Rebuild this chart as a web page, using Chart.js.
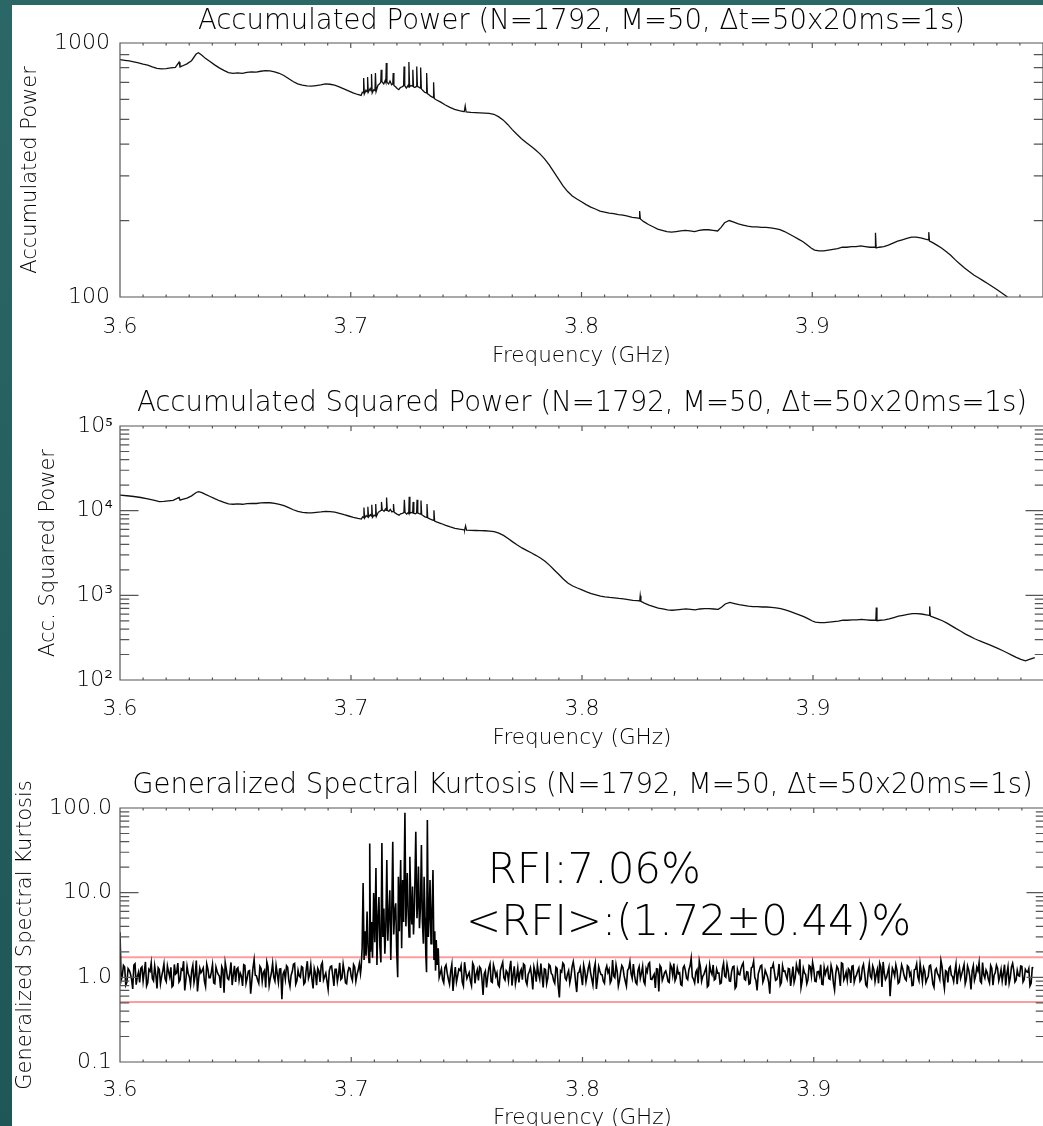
<!DOCTYPE html>
<html>
<head>
<meta charset="utf-8">
<title>Spectral Kurtosis</title>
<script src="https://cdn.jsdelivr.net/npm/chart.js@4.4.1/dist/chart.umd.min.js"></script>
<style>
  body { margin: 0; width: 1043px; height: 1126px; overflow: hidden; position: relative;
         background: linear-gradient(#2c6767, #1f5656); }
  .sheet { position: absolute; left: 12px; top: 5px; right: 0; bottom: 0; background: #fff; }
  .panel { position: absolute; left: 0; }
</style>
</head>
<body>
<div class="sheet"></div>
<div class="panel" style="top:0"><canvas id="powerChart" width="1060" height="375"></canvas></div>
<div class="panel" style="top:375px"><canvas id="squaredChart" width="1060" height="380"></canvas></div>
<div class="panel" style="top:755px"><canvas id="kurtosisChart" width="1060" height="390"></canvas></div>
<script>
// ---- data ----
const xMajorTicks = [3.6, 3.7, 3.8, 3.9, 4.0];
const xTickLabels = ["3.6", "3.7", "3.8", "3.9", ""];

const powerTicks = [100, 1000];
const powerLabels = ["100", "1000"];
const squaredTicks = [100, 1000, 10000, 100000];
const squaredLabels = ["10²", "10³", "10⁴", "10⁵"];
const kurtTicks = [0.1, 1, 10, 100];
const kurtLabels = ["0.1", "1.0", "10.0", "100.0"];

// accumulated power [GHz, value]
const accPower = [
  [3.600, 860], [3.602, 855], [3.604, 850], [3.606, 843], [3.608, 836], [3.610, 826], [3.612, 818],
  [3.614, 806], [3.616, 795], [3.618, 791], [3.620, 793], [3.622, 798], [3.624, 801], [3.6256, 840],
  [3.6260, 805], [3.627, 812], [3.629, 828], [3.631, 852], [3.633, 905], [3.634, 915], [3.6355, 895],
  [3.637, 870], [3.639, 845], [3.641, 820], [3.643, 798], [3.645, 780], [3.647, 765], [3.649, 760],
  [3.651, 763], [3.653, 760], [3.655, 766], [3.657, 770], [3.659, 768], [3.661, 774], [3.663, 778],
  [3.665, 776], [3.667, 770], [3.669, 760], [3.671, 745], [3.673, 725], [3.675, 705], [3.677, 690],
  [3.679, 682], [3.681, 678], [3.683, 676], [3.685, 680], [3.687, 684], [3.689, 690], [3.691, 688],
  [3.693, 682], [3.695, 672], [3.697, 660], [3.699, 648], [3.701, 636], [3.703, 627], [3.7045, 622],
  [3.7050, 640], [3.7054, 636], [3.7056, 728], [3.7059, 630], [3.7066, 652], [3.7071, 642], [3.7073, 734],
  [3.7076, 640], [3.7084, 662], [3.7088, 648], [3.7090, 755], [3.7093, 636], [3.7100, 655], [3.7105, 650],
  [3.7107, 762], [3.7110, 645], [3.7118, 682], [3.7124, 690], [3.7130, 700], [3.7132, 785], [3.7135, 705],
  [3.7143, 690], [3.7149, 712], [3.7152, 700], [3.7154, 834], [3.7157, 700], [3.7164, 690], [3.7170, 708],
  [3.7177, 685], [3.7182, 690], [3.7184, 762], [3.7187, 680], [3.7194, 672], [3.7201, 662], [3.7208, 655],
  [3.7215, 668], [3.7222, 672], [3.7229, 678], [3.7231, 808], [3.7234, 680], [3.7241, 665], [3.7248, 680],
  [3.7250, 672], [3.7252, 842], [3.7255, 672], [3.7261, 680], [3.7267, 676], [3.7269, 785], [3.7272, 672],
  [3.7278, 668], [3.7284, 674], [3.7286, 808], [3.7289, 676], [3.7295, 670], [3.7301, 665], [3.7303, 800],
  [3.7306, 660], [3.7313, 650], [3.7320, 640], [3.7327, 636], [3.7329, 762], [3.7332, 632], [3.7339, 625],
  [3.7346, 618], [3.7354, 612], [3.7357, 610], [3.7359, 700], [3.7362, 605], [3.737, 598],
  [3.739, 585], [3.741, 570], [3.743, 558], [3.745, 548], [3.747, 542], [3.749, 537],
  [3.7492, 537], [3.7496, 565], [3.7500, 535], [3.752, 533], [3.754, 532], [3.756, 531], [3.758, 530],
  [3.760, 528], [3.762, 524], [3.764, 513], [3.766, 498], [3.768, 478], [3.770, 456], [3.772, 437],
  [3.774, 420], [3.776, 406], [3.778, 393], [3.780, 380], [3.782, 366], [3.784, 350], [3.786, 331],
  [3.788, 311], [3.790, 292], [3.792, 274], [3.794, 260], [3.796, 250], [3.798, 243], [3.800, 237],
  [3.802, 231], [3.804, 226], [3.806, 222], [3.808, 218], [3.810, 216], [3.812, 214], [3.814, 213],
  [3.816, 211], [3.818, 210], [3.820, 208], [3.822, 206], [3.824, 205], [3.8250, 204], [3.8252, 218],
  [3.8255, 203], [3.827, 198], [3.829, 193], [3.831, 189], [3.833, 185], [3.835, 183], [3.837, 181],
  [3.839, 180], [3.841, 181], [3.843, 182], [3.845, 183], [3.847, 182], [3.849, 181], [3.851, 183],
  [3.853, 184], [3.855, 184], [3.857, 183], [3.859, 182], [3.8605, 188], [3.862, 196], [3.864, 200],
  [3.866, 197], [3.868, 194], [3.870, 192], [3.872, 190], [3.874, 189], [3.876, 189], [3.878, 188],
  [3.880, 188], [3.882, 187], [3.884, 186], [3.886, 184], [3.888, 181], [3.890, 177], [3.892, 173],
  [3.894, 169], [3.896, 165], [3.898, 160], [3.8995, 156], [3.901, 153], [3.903, 152], [3.905, 152],
  [3.907, 153], [3.909, 154], [3.911, 155], [3.913, 157], [3.915, 157], [3.917, 158], [3.919, 158],
  [3.921, 159], [3.923, 158], [3.925, 157], [3.9272, 157], [3.9274, 179], [3.9277, 156], [3.929, 157],
  [3.931, 158], [3.933, 160], [3.935, 163], [3.937, 166], [3.939, 168], [3.941, 170], [3.943, 172],
  [3.945, 172], [3.947, 171], [3.949, 169], [3.9503, 168], [3.9505, 180], [3.9508, 166], [3.952, 164],
  [3.954, 160], [3.956, 156], [3.958, 151], [3.960, 146], [3.962, 140], [3.964, 135], [3.966, 130],
  [3.968, 126], [3.970, 122], [3.972, 119], [3.974, 116], [3.976, 113], [3.978, 110], [3.980, 107],
  [3.982, 104], [3.984, 101], [3.986, 97], [3.988, 94], [3.990, 90], [3.992, 87], [3.995, 83]
];

// accumulated squared power [GHz, value]
const accSquared = [
  [3.600, 15300], [3.603, 15000], [3.606, 14700], [3.609, 14300], [3.612, 13800], [3.615, 13200],
  [3.617, 12800], [3.619, 12900], [3.621, 13050], [3.623, 13200], [3.6256, 14300], [3.6260, 13300],
  [3.627, 13550], [3.629, 14100], [3.631, 14950], [3.633, 16400], [3.634, 16800], [3.6355, 16300],
  [3.637, 15550], [3.639, 14700], [3.641, 13850], [3.643, 13100], [3.645, 12550], [3.647, 12050],
  [3.649, 11900], [3.651, 12000], [3.653, 11900], [3.655, 12100], [3.657, 12200], [3.659, 12150],
  [3.661, 12350], [3.663, 12450], [3.665, 12400], [3.667, 12200], [3.669, 11900], [3.671, 11450],
  [3.673, 10850], [3.675, 10250], [3.677, 9800], [3.679, 9550], [3.681, 9450], [3.683, 9400],
  [3.685, 9550], [3.687, 9650], [3.689, 9800], [3.691, 9750], [3.693, 9600], [3.695, 9300],
  [3.697, 8950], [3.699, 8650], [3.701, 8350], [3.703, 8100], [3.7045, 7950],
  [3.7050, 8440], [3.7054, 8300], [3.7056, 10920], [3.7059, 8180], [3.7066, 8750], [3.7071, 8450],
  [3.7073, 11100], [3.7076, 8440], [3.7084, 9000], [3.7088, 8650], [3.7090, 11740], [3.7093, 8330],
  [3.7100, 8840], [3.7105, 8700], [3.7107, 11960], [3.7110, 8570], [3.7118, 9560], [3.7124, 9800],
  [3.7130, 10090], [3.7132, 12690], [3.7135, 10240], [3.7143, 9810], [3.7149, 10440], [3.7152, 10090],
  [3.7154, 14330], [3.7157, 10090], [3.7164, 9810], [3.7170, 10330], [3.7177, 9670], [3.7182, 9810],
  [3.7184, 11960], [3.7187, 9530], [3.7194, 9300], [3.7201, 9030], [3.7208, 8840], [3.7215, 9190],
  [3.7222, 9300], [3.7229, 9470], [3.7231, 13450], [3.7234, 9530], [3.7241, 9110], [3.7248, 9530],
  [3.7250, 9300], [3.7252, 14600], [3.7255, 9300], [3.7261, 9530], [3.7267, 9410], [3.7269, 12690],
  [3.7272, 9300], [3.7278, 9190], [3.7284, 9360], [3.7286, 13450], [3.7289, 9410], [3.7295, 9250],
  [3.7301, 9110], [3.7303, 13180], [3.7306, 8970], [3.7313, 8700], [3.7320, 8440], [3.7327, 8330],
  [3.7329, 11960], [3.7332, 8230], [3.7339, 8050], [3.7346, 7870], [3.7354, 7720], [3.7357, 7660],
  [3.7359, 10090], [3.7362, 7540], [3.737, 7370], [3.739, 7050], [3.741, 6700], [3.743, 6420],
  [3.745, 6190], [3.747, 6050], [3.749, 5940], [3.7492, 5930], [3.7496, 6600], [3.7500, 5900],
  [3.752, 5850], [3.754, 5830], [3.756, 5800], [3.758, 5790], [3.760, 5740], [3.762, 5650],
  [3.764, 5420], [3.766, 5110], [3.768, 4700], [3.770, 4280], [3.772, 3930], [3.774, 3630],
  [3.776, 3390], [3.778, 3180], [3.780, 2970], [3.782, 2760], [3.784, 2520], [3.786, 2260],
  [3.788, 1990], [3.790, 1760], [3.792, 1550], [3.794, 1390], [3.796, 1290], [3.798, 1220],
  [3.800, 1160], [3.802, 1100], [3.804, 1050], [3.806, 1015], [3.808, 980], [3.810, 960],
  [3.812, 945], [3.814, 935], [3.816, 920], [3.818, 908], [3.820, 892], [3.822, 874], [3.824, 866],
  [3.8250, 857], [3.8252, 990], [3.8255, 849], [3.827, 808], [3.829, 767], [3.831, 735], [3.833, 705],
  [3.835, 690], [3.837, 675], [3.839, 667], [3.841, 675], [3.843, 682], [3.845, 690], [3.847, 682],
  [3.849, 675], [3.851, 690], [3.853, 697], [3.855, 697], [3.857, 690], [3.859, 682], [3.8605, 728],
  [3.862, 791], [3.864, 824], [3.866, 800], [3.868, 775], [3.870, 760], [3.872, 744], [3.874, 736],
  [3.876, 736], [3.878, 728], [3.880, 728], [3.882, 720], [3.884, 713], [3.886, 697], [3.888, 675],
  [3.890, 645], [3.892, 617], [3.894, 589], [3.896, 561], [3.898, 527], [3.8995, 501], [3.901, 482],
  [3.903, 476], [3.905, 476], [3.907, 482], [3.909, 488], [3.911, 495], [3.913, 508], [3.915, 508],
  [3.917, 514], [3.919, 514], [3.921, 520], [3.923, 514], [3.925, 508], [3.9272, 508], [3.9274, 720],
  [3.9277, 501], [3.929, 508], [3.931, 514], [3.933, 527], [3.935, 547], [3.937, 567], [3.939, 581],
  [3.941, 595], [3.943, 609], [3.945, 609], [3.947, 602], [3.949, 589], [3.9503, 581], [3.9505, 740],
  [3.9508, 568], [3.952, 554], [3.954, 527], [3.956, 501], [3.958, 470], [3.960, 436], [3.962, 404],
  [3.964, 376], [3.966, 348], [3.968, 327], [3.970, 307], [3.972, 291], [3.974, 277], [3.976, 263],
  [3.978, 249], [3.980, 236], [3.982, 223], [3.984, 210], [3.986, 197], [3.988, 185], [3.990, 175],
  [3.992, 168], [3.994, 176], [3.996, 184]
];

// generalized spectral kurtosis: channels every 0.5 MHz outside the RFI band
const skStep = 0.001;
const skLeftStart = 3.600;
const skLeft = [
  3.4, 1.05, 1.32, 0.88, 1.21, 0.95, 1.40, 0.82, 1.15, 1.28, 0.90, 1.52, 0.86, 1.18, 0.97, 1.36, 0.74, 1.24, 1.02, 1.44,
  0.89, 1.16, 1.31, 0.80, 1.09, 1.47, 0.93, 1.22, 0.70, 1.35, 1.01, 1.19, 0.87, 1.58, 0.96, 1.13, 1.29, 0.78, 1.26, 0.99,
  1.41, 0.84, 1.17, 1.03, 1.34, 0.66, 1.23, 0.94, 1.50, 1.07, 0.88, 1.30, 1.12, 0.79, 1.38, 0.98, 1.20, 0.91, 1.62, 1.04,
  0.85, 1.27, 1.14, 0.76, 1.33, 0.97, 1.46, 0.90, 1.10, 1.25, 0.55, 1.18, 1.37, 0.92, 1.06, 1.43, 0.83, 1.21, 1.00, 1.31,
  0.87, 1.55, 1.08, 0.95, 1.28, 0.81, 1.19, 1.39, 0.93, 1.12, 0.72, 1.34, 1.05, 1.24, 0.89, 1.48, 0.98, 1.16, 0.84, 1.30,
  1.02, 1.42, 0.90, 1.22, 1.11
];
const skLeftMidStart = 3.6005;
const skLeftMid = [
  0.92, 1.38, 0.81, 1.27, 1.10, 0.73, 1.45, 1.02, 0.87, 1.33, 1.16, 0.79, 1.24, 1.48, 0.91, 1.07, 1.30, 0.84, 1.19, 0.96,
  1.36, 1.01, 0.77, 1.42, 1.13, 0.88, 1.26, 1.55, 0.94, 1.11, 0.82, 1.39, 1.05, 0.68, 1.28, 1.20, 0.90, 1.44, 0.99, 1.15,
  0.86, 1.32, 1.08, 0.75, 1.23, 1.49, 0.97, 1.12, 0.81, 1.37, 1.25, 0.92, 1.03, 1.41, 0.85, 1.18, 0.64, 1.29, 1.06, 0.93,
  1.35, 0.89, 1.21, 1.52, 0.80, 1.14, 1.00, 1.38, 0.87, 1.26, 1.09, 0.95, 1.31, 0.78, 1.17, 1.46, 0.91, 1.04, 1.34, 0.83,
  1.22, 0.97, 1.40, 0.74, 1.13, 1.28, 0.88, 1.50, 1.02, 0.90, 1.19, 1.36, 0.79, 1.24, 1.07, 0.94, 1.43, 0.86, 1.15, 1.27,
  0.92, 1.33, 1.08, 1.45
];
// RFI band [GHz, value]
const skRfi = [
  [3.70427, 1.3], [3.70470, 2.2], [3.70513, 13.0], [3.70556, 1.6], [3.70598, 3.5], [3.70641, 1.8],
  [3.70684, 6.0], [3.70726, 2.4], [3.70769, 1.5], [3.70799, 38], [3.70833, 2.0], [3.70876, 4.5],
  [3.70919, 1.7], [3.70970, 9.9], [3.71017, 2.6], [3.71068, 19.6], [3.71111, 1.4], [3.71154, 5.0],
  [3.71197, 8.9], [3.71239, 2.3], [3.71282, 1.5], [3.71325, 38.5], [3.71368, 3.0], [3.71410, 6.5],
  [3.71453, 1.9], [3.71496, 4.0], [3.71538, 24.3], [3.71581, 2.7], [3.71624, 5.5], [3.71667, 10.7],
  [3.71709, 1.6], [3.71752, 6.0], [3.71795, 40], [3.71838, 3.2], [3.71880, 6.0], [3.71923, 7.5],
  [3.71966, 2.0], [3.72009, 1.0], [3.72038, 15.4], [3.72081, 3.5], [3.72137, 24.3], [3.72179, 2.2],
  [3.72222, 14.1], [3.72265, 4.5], [3.72321, 88], [3.72363, 4.0], [3.72423, 17.1], [3.72466, 5.5],
  [3.72500, 3.0], [3.72534, 26.6], [3.72585, 6.0], [3.72620, 4.2], [3.72650, 11.8], [3.72692, 3.2],
  [3.72735, 7.0], [3.72791, 52.5], [3.72842, 5.0], [3.72876, 8.0], [3.72906, 20.3], [3.72949, 3.8],
  [3.72991, 6.5], [3.73034, 36.5], [3.73077, 4.5], [3.73120, 2.5], [3.73150, 15.4], [3.73192, 5.0],
  [3.73226, 1.8], [3.73256, 1.15], [3.73291, 72], [3.73333, 3.0], [3.73376, 6.0], [3.73406, 14.1],
  [3.73449, 2.5], [3.73483, 4.5], [3.73534, 18.5], [3.73577, 1.6], [3.73611, 3.5], [3.73645, 1.2],
  [3.73675, 2.76], [3.73718, 1.4], [3.73761, 2.2], [3.73803, 1.0]
];
const skRightStart = 3.739;
const skRight = [
  1.26, 0.86, 1.40, 0.95, 1.18, 0.69, 1.32, 1.04, 1.21, 0.88, 1.51, 0.97, 1.14, 0.80, 1.36, 1.09, 0.92, 1.27, 0.62, 1.19,
  1.01, 1.44, 0.87, 1.23, 1.13, 0.78, 1.35, 0.99, 1.20, 0.91, 1.57, 1.06, 0.84, 1.29, 1.15, 0.94, 1.39, 0.82, 1.17, 1.03,
  1.33, 0.89, 1.10, 1.45, 0.76, 1.24, 0.98, 1.37, 1.07, 0.85, 1.28, 0.58, 1.16, 1.41, 0.93, 1.20, 1.02, 1.53, 0.88, 1.12,
  1.30, 0.81, 1.19, 1.05, 1.46, 0.96, 1.25, 0.73, 1.34, 1.08, 0.90, 1.22, 1.14, 0.86, 1.60, 0.99, 1.18, 0.92, 1.38, 1.04,
  0.79, 1.27, 1.11, 1.43, 0.87, 1.21, 0.97, 1.35, 0.83, 1.16, 1.49, 0.94, 1.09, 1.26, 0.68, 1.31, 1.01, 1.19, 0.89, 1.42,
  1.06, 0.91, 1.28, 1.13, 0.80, 1.37, 0.98, 1.23, 1.68, 0.95, 1.15, 0.85, 1.32, 1.03, 1.20, 0.77, 1.40, 1.08, 0.93, 1.25,
  1.12, 0.86, 1.47, 1.00, 1.19, 0.90, 1.33, 0.74, 1.24, 1.07, 1.39, 0.96, 1.16, 0.83, 1.29, 1.54, 0.92, 1.10, 1.36, 0.88,
  1.21, 1.02, 0.64, 1.30, 1.14, 0.94, 1.44, 0.87, 1.18, 1.05, 1.27, 0.79, 1.34, 0.99, 1.22, 1.63, 0.91, 1.13, 0.84, 1.38,
  1.04, 1.25, 0.89, 1.17, 1.41, 0.82, 1.09, 1.31, 0.95, 1.20, 0.71, 1.35, 1.06, 1.48, 0.93, 1.15, 1.26, 0.86, 1.37, 1.00,
  1.19, 0.90, 1.29, 1.11, 0.78, 1.43, 0.97, 1.23, 1.08, 0.85, 1.33, 1.52, 0.94, 1.16, 0.60, 1.28, 1.03, 1.21, 0.88, 1.40,
  1.07, 0.92, 1.32, 1.14, 0.81, 1.25, 1.01, 1.45, 0.89, 1.18, 0.96, 1.36, 1.10, 0.76, 1.27, 1.05, 1.58, 0.93, 1.20, 0.87,
  1.34, 1.02, 1.16, 0.83, 1.30, 1.09, 1.42, 0.95, 1.22, 0.72, 1.37, 1.04, 1.19, 0.90, 1.49, 0.98, 1.13, 0.86, 1.28, 1.06,
  1.39, 0.91, 1.24, 1.12, 0.80, 1.33, 0.99, 1.46, 0.88, 1.21, 1.03, 1.35, 0.94, 1.17, 1.27, 0.85, 1.31
];
const skRightMidStart = 3.7395;
const skRightMid = [
  0.94, 1.31, 1.12, 0.83, 1.43, 1.00, 0.88, 1.25, 1.37, 0.79, 1.18, 1.06, 0.91, 1.47, 0.85, 1.22, 1.33, 0.97, 1.10, 0.76,
  1.29, 0.89, 1.40, 1.03, 0.82, 1.21, 1.50, 0.93, 1.14, 1.27, 0.80, 1.35, 1.01, 0.87, 1.24, 1.44, 0.90, 1.08, 1.30, 0.72,
  1.17, 1.38, 0.95, 1.05, 1.26, 0.84, 1.42, 1.11, 0.92, 1.32, 0.78, 1.20, 1.48, 0.98, 1.09, 0.86, 1.34, 1.23, 0.67, 1.15,
  1.02, 1.39, 0.88, 1.28, 1.13, 0.81, 1.46, 0.96, 1.19, 1.07, 0.85, 1.36, 1.24, 0.93, 1.04, 1.41, 0.79, 1.16, 1.30, 0.90,
  1.21, 1.52, 0.97, 1.06, 0.83, 1.34, 1.12, 0.89, 1.27, 1.43, 0.95, 1.02, 0.75, 1.25, 1.38, 0.92, 1.14, 1.05, 0.87, 1.31,
  1.45, 0.99, 1.10, 0.82, 1.29, 1.20, 0.94, 1.36, 1.01, 0.86, 1.23, 1.56, 0.90, 1.08, 1.32, 0.80, 1.17, 1.40, 0.96, 1.12,
  0.84, 1.27, 1.03, 1.42, 0.91, 1.18, 1.35, 0.78, 1.09, 1.26, 1.48, 0.93, 1.15, 0.85, 1.33, 1.00, 0.70, 1.22, 1.39, 0.97,
  1.11, 0.88, 1.30, 1.44, 0.92, 1.06, 0.81, 1.37, 1.19, 0.95, 1.25, 1.02, 0.87, 1.41, 1.13, 0.76, 1.28, 1.08, 0.94, 1.34,
  1.50, 0.90, 1.16, 1.04, 0.83, 1.31, 1.22, 0.97, 1.38, 0.86, 1.10, 1.27, 0.79, 1.45, 1.01, 0.92, 1.20, 1.35, 0.88, 1.07,
  1.29, 0.95, 1.42, 0.82, 1.14, 1.03, 1.36, 0.89, 1.24, 1.47, 0.77, 1.12, 1.00, 1.32, 0.93, 1.18, 1.40, 0.85, 1.09, 1.26,
  0.96, 1.37, 1.05, 0.80, 1.23, 1.44, 0.91, 1.15, 1.30, 0.87, 1.02, 1.39, 0.83, 1.21, 1.11, 0.94, 1.34, 0.74, 1.17, 1.28,
  1.06, 0.89, 1.43, 1.13, 0.97, 1.25, 0.84, 1.36, 1.01, 1.19, 0.92, 1.31, 1.49, 0.86, 1.08, 1.22, 0.95, 1.38, 0.81, 1.14,
  1.27, 1.03, 0.90, 1.41, 1.10, 0.85, 1.33, 1.20, 0.93, 1.05, 1.36, 0.88, 1.24, 1.15, 0.79, 1.30
];
const skThresholds = [0.51, 1.73];
const rfiText = ["RFI:7.06%", "<RFI>:(1.72±0.44)%"];

// ---- styling ----
const FONT = "DejaVu Sans";
const INK = "#000";
const AXIS = "#555";
Chart.defaults.font.family = FONT;
Chart.defaults.font.weight = 200;
Chart.defaults.color = INK;

// IDL-like box with inward ticks on all four sides
const idlAxes = {
  id: "idlAxes",
  afterDatasetsDraw(chart) {
    const { ctx, chartArea: a, scales: { x, y } } = chart;
    const w = a.right - a.left, h = a.bottom - a.top;
    ctx.save();
    ctx.strokeStyle = AXIS;
    ctx.lineWidth = 1.2;
    ctx.beginPath();
    ctx.rect(a.left, a.top, w, h);
    for (let i = 0; i <= 40; i++) {
      const px = x.getPixelForValue(x.min + i * 0.01);
      const len = (i % 10 === 0 ? 0.02 : 0.01) * h;
      ctx.moveTo(px, a.bottom); ctx.lineTo(px, a.bottom - len);
      ctx.moveTo(px, a.top); ctx.lineTo(px, a.top + len);
    }
    const d0 = Math.round(Math.log10(y.min)), d1 = Math.round(Math.log10(y.max));
    for (let d = d0; d < d1; d++) {
      for (let m = 1; m <= 9; m++) {
        const py = y.getPixelForValue(m * Math.pow(10, d));
        const len = (m === 1 ? 0.02 : 0.01) * w;
        ctx.moveTo(a.left, py); ctx.lineTo(a.left + len, py);
        ctx.moveTo(a.right, py); ctx.lineTo(a.right - len, py);
      }
    }
    ctx.stroke();
    ctx.restore();
  }
};

// RFI percentages written inside the kurtosis panel
const rfiNote = {
  id: "rfiNote",
  afterDraw(chart) {
    const { ctx, scales: { x, y } } = chart;
    ctx.save();
    ctx.font = "200 42px '" + FONT + "'";
    ctx.fillStyle = INK;
    ctx.textAlign = "left";
    ctx.textBaseline = "alphabetic";
    ctx.fillText(rfiText[0], x.getPixelForValue(3.759), y.getPixelForValue(13.0));
    ctx.fillText(rfiText[1], x.getPixelForValue(3.7496), y.getPixelForValue(3.16));
    ctx.restore();
  }
};

function makeChart(id, cfg) {
  const labelFor = (ticks, labels) => v => {
    const i = ticks.findIndex(t => Math.abs(t - v) < t * 1e-6);
    return i < 0 ? "" : labels[i];
  };
  return new Chart(document.getElementById(id), {
    type: "line",
    data: { datasets: cfg.datasets },
    plugins: cfg.plugins,
    options: {
      responsive: false,
      animation: false,
      events: [],
      layout: { padding: { left: 0, right: 4, top: 0, bottom: 0 } },
      elements: { point: { radius: 0 }, line: { tension: 0 } },
      plugins: {
        legend: { display: false },
        tooltip: { enabled: false },
        title: {
          display: true,
          text: cfg.title,
          fullSize: false,
          color: INK,
          font: { size: 27.5, weight: 200, lineHeight: 1 },
          padding: cfg.titlePad
        }
      },
      scales: {
        x: {
          type: "linear",
          min: 3.6,
          max: 4.0,
          afterBuildTicks: s => { s.ticks = xMajorTicks.map(v => ({ value: v })); },
          ticks: {
            autoSkip: false,
            maxRotation: 0,
            padding: cfg.xLabelPad,
            font: { size: 22 },
            callback: labelFor(xMajorTicks, xTickLabels)
          },
          grid: { display: false, drawTicks: false },
          border: { display: false },
          title: {
            display: true,
            text: "Frequency (GHz)",
            font: { size: 21.5, weight: 200, lineHeight: 1 },
            padding: { top: 0, bottom: cfg.xTitlePad }
          },
          afterFit: s => { s.height = cfg.xHeight; }
        },
        y: {
          type: "logarithmic",
          min: cfg.yTicks[0],
          max: cfg.yTicks[cfg.yTicks.length - 1],
          afterBuildTicks: s => { s.ticks = cfg.yTicks.map(v => ({ value: v })); },
          ticks: {
            autoSkip: false,
            padding: cfg.yLabelPad,
            font: { size: 22 },
            callback: labelFor(cfg.yTicks, cfg.yLabels)
          },
          grid: { display: false, drawTicks: false },
          border: { display: false },
          title: {
            display: true,
            text: cfg.yTitle,
            font: { size: 21, weight: 200, lineHeight: 1 },
            padding: { top: cfg.yTitlePad, bottom: 0 }
          },
          afterFit: s => { s.width = 120; }
        }
      }
    }
  });
}

const toPoints = pairs => pairs.map(([f, v]) => ({ x: f, y: v }));

makeChart("powerChart", {
  title: "Accumulated Power (N=1792, M=50, Δt=50x20ms=1s)",
  titlePad: { top: 8.4, bottom: 7.1 },
  xLabelPad: 17, xTitlePad: 7.6, xHeight: 78,
  yTicks: powerTicks, yLabels: powerLabels, yLabelPad: 10,
  yTitle: "Accumulated Power", yTitlePad: 20.2,
  plugins: [idlAxes],
  datasets: [{ data: toPoints(accPower), borderColor: "#111", borderWidth: 1.3 }]
});

makeChart("squaredChart", {
  title: "Accumulated Squared Power (N=1792, M=50, Δt=50x20ms=1s)",
  titlePad: { top: 14.75, bottom: 8.75 },
  xLabelPad: 16, xTitlePad: 5.6, xHeight: 75,
  yTicks: squaredTicks, yLabels: squaredLabels, yLabelPad: 7,
  yTitle: "Acc. Squared Power", yTitlePad: 38.2,
  plugins: [idlAxes],
  datasets: [{ data: toPoints(accSquared), borderColor: "#111", borderWidth: 1.3 }]
});

// merge the channel lists into one frequency-ordered trace
const skPoints = [];
skLeft.forEach((v, i) => skPoints.push({ x: skLeftStart + i * skStep, y: v }));
skLeftMid.forEach((v, i) => skPoints.push({ x: skLeftMidStart + i * skStep, y: v }));
skRfi.forEach(([f, v]) => skPoints.push({ x: f, y: v }));
skRight.forEach((v, i) => skPoints.push({ x: skRightStart + i * skStep, y: v }));
skRightMid.forEach((v, i) => skPoints.push({ x: skRightMidStart + i * skStep, y: v }));
skPoints.sort((a, b) => a.x - b.x);

makeChart("kurtosisChart", {
  title: "Generalized Spectral Kurtosis (N=1792, M=50, Δt=50x20ms=1s)",
  titlePad: { top: 16.75, bottom: 8.75 },
  xLabelPad: 15, xTitlePad: 15.6, xHeight: 83,
  yTicks: kurtTicks, yLabels: kurtLabels, yLabelPad: 8,
  yTitle: "Generalized Spectral Kurtosis", yTitlePad: 14.7,
  plugins: [idlAxes, rfiNote],
  datasets: [
    { data: skPoints, borderColor: "#000", borderWidth: 1.6, order: 0 },
    ...skThresholds.map(t => ({
      data: [{ x: 3.6, y: t }, { x: 4.0, y: t }],
      borderColor: "#ff9d9d", borderWidth: 2, order: 1
    }))
  ]
});
</script>
</body>
</html>
